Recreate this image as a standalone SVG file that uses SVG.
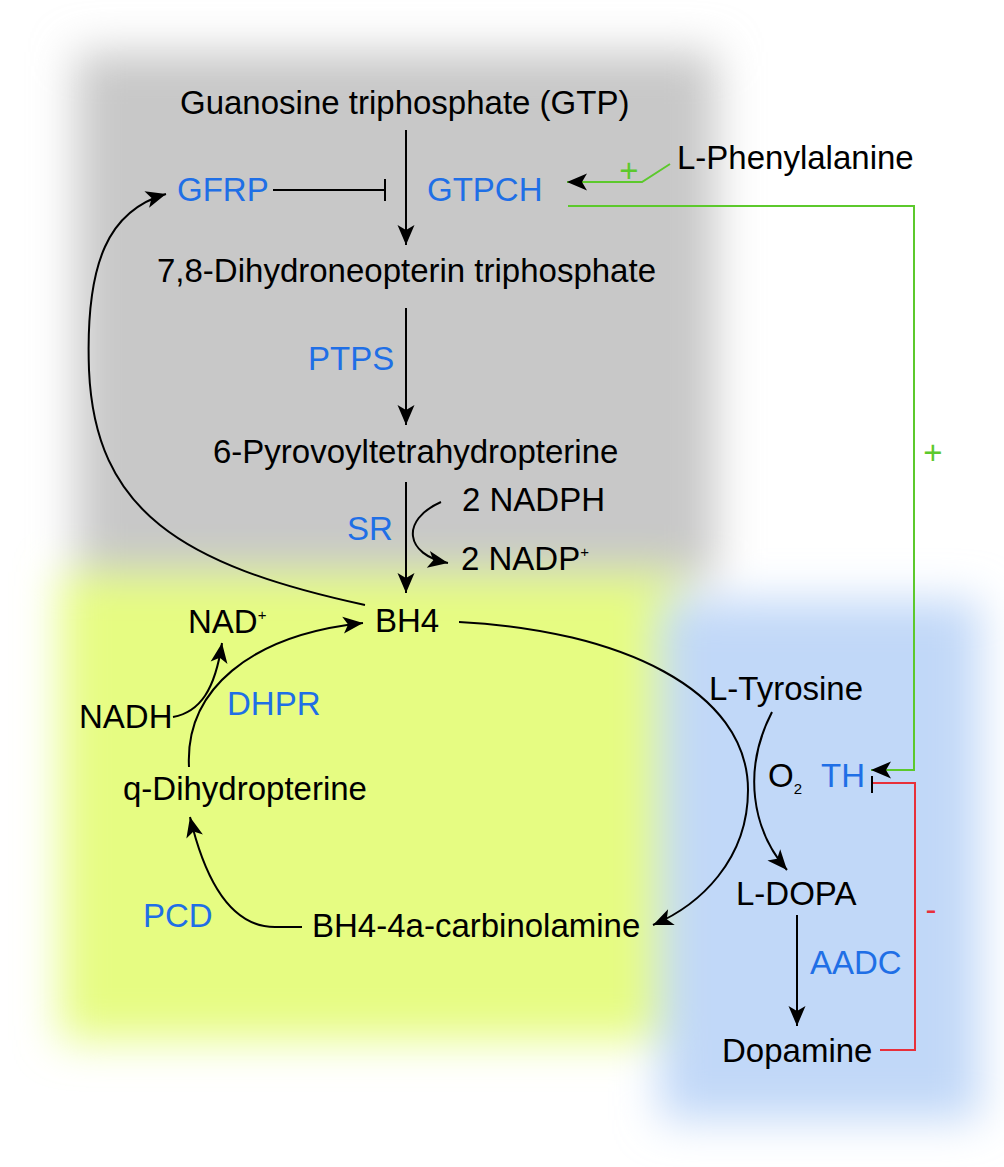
<svg xmlns="http://www.w3.org/2000/svg" width="1004" height="1167" viewBox="0 0 1004 1167">
<style>
text{font-family:"Liberation Sans",Arial,sans-serif;font-size:33px;fill:#000}
.enz{fill:#1f6fe6}
.c{fill:none;stroke:#000;stroke-width:2}
.g{fill:none;stroke:#5cc92c;stroke-width:2}
.r{fill:none;stroke:#e8303a;stroke-width:2}
.sup{font-size:15px}
</style>
<defs>
<filter id="blur" x="-25%" y="-25%" width="150%" height="150%"><feGaussianBlur stdDeviation="22"/></filter>
<marker id="ah" viewBox="-21 -10 22 20" markerWidth="22" markerHeight="20" refX="0" refY="0" orient="auto" markerUnits="userSpaceOnUse"><path d="M0,0 L-20,-8.5 L-15,0 L-20,8.5 Z" fill="#000"/></marker>
</defs>
<rect width="1004" height="1167" fill="#fff"/>
<g id="backgrounds" filter="url(#blur)">
<rect x="76" y="52" width="640" height="528" fill="#c8c8c8"/>
<rect x="60" y="572" width="622" height="468" fill="#e6fc82"/>
<rect x="660" y="600" width="320" height="520" fill="#c1d8f8"/>
</g>
<g id="connectors">
<path class="c" d="M406 130 L406 245" marker-end="url(#ah)"/>
<path class="c" d="M273 190 L385 190 M385 179 L385 201"/>
<path class="c" d="M406 308 L406 425" marker-end="url(#ah)"/>
<path class="c" d="M406 482 L406 593" marker-end="url(#ah)"/>
<path class="c" d="M441 502 C400 520 405 555 448 563" marker-end="url(#ah)"/>
<path class="c" d="M365 605 C180 565 95 510 89 370 C85 260 110 210 166 194" marker-end="url(#ah)"/>
<path class="c" d="M459 622 C620 630 748 690 748 790 C748 860 700 905 653 925" marker-end="url(#ah)"/>
<path class="c" d="M772 712 C742 770 752 830 787 870" marker-end="url(#ah)"/>
<path class="c" d="M189 767 C185 690 250 635 363 623" marker-end="url(#ah)"/>
<path class="c" d="M173 717 C200 712 215 690 222 643" marker-end="url(#ah)"/>
<path class="c" d="M302 927 L275 927 C230 927 205 880 190 817" marker-end="url(#ah)"/>
<path class="c" d="M797 915 L797 1026" marker-end="url(#ah)"/>
<path class="g" d="M670 164 L642 182 L567 182" marker-end="url(#ah)"/>
<path class="g" d="M568 206 L914 206 L914 770 L871 770" marker-end="url(#ah)"/>
<path class="r" d="M880 1050 L915 1050 L915 783 L873 783"/>
<path class="c" d="M872 776 L872 793"/>
<text x="629" y="182" text-anchor="middle" style="fill:#5cc92c">+</text>
<text x="933" y="464" text-anchor="middle" style="fill:#5cc92c">+</text>
<text x="931" y="921" text-anchor="middle" style="fill:#e8303a">-</text>
</g>
<g id="n-gtp"><text x="180" y="114">Guanosine triphosphate (GTP)</text></g>
<g id="n-gfrp"><text class="enz" x="177" y="201">GFRP</text></g>
<g id="n-gtpch"><text class="enz" x="427" y="201">GTPCH</text></g>
<g id="n-phe"><text x="677" y="169">L-Phenylalanine</text></g>
<g id="n-dntp"><text x="157" y="282">7,8-Dihydroneopterin triphosphate</text></g>
<g id="n-ptps"><text class="enz" x="308" y="370">PTPS</text></g>
<g id="n-ppth"><text x="213" y="463">6-Pyrovoyltetrahydropterine</text></g>
<g id="n-sr"><text class="enz" x="347" y="540">SR</text></g>
<g id="n-nadph"><text x="462" y="511">2 NADPH</text></g>
<g id="n-nadp"><text x="461" y="570">2 NADP<tspan class="sup" dy="-13">+</tspan></text></g>
<g id="n-bh4"><text x="375" y="632">BH4</text></g>
<g id="n-nad"><text x="188" y="633">NAD<tspan class="sup" dy="-13">+</tspan></text></g>
<g id="n-nadh"><text x="79" y="728">NADH</text></g>
<g id="n-dhpr"><text class="enz" x="227" y="715">DHPR</text></g>
<g id="n-qdh"><text x="123" y="800">q-Dihydropterine</text></g>
<g id="n-pcd"><text class="enz" x="143" y="927">PCD</text></g>
<g id="n-carb"><text x="312" y="937">BH4-4a-carbinolamine</text></g>
<g id="n-tyr"><text x="709" y="700">L-Tyrosine</text></g>
<g id="n-o2"><text x="768" y="787">O<tspan class="sup" dy="7">2</tspan></text></g>
<g id="n-th"><text class="enz" x="821" y="787">TH</text></g>
<g id="n-dopa"><text x="736" y="905">L-DOPA</text></g>
<g id="n-aadc"><text class="enz" x="810" y="974">AADC</text></g>
<g id="n-dopamine"><text x="722" y="1062">Dopamine</text></g>
</svg>
